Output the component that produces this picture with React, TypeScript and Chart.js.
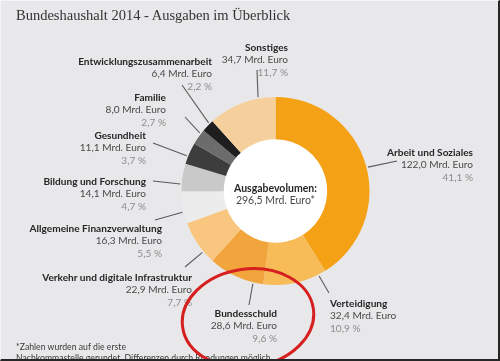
import React, { useEffect, useRef } from "react";
import { Chart, registerables } from "chart.js";

Chart.register(...registerables);

// ---------- data ----------
const categories = [
  "Arbeit und Soziales",
  "Verteidigung",
  "Bundesschuld",
  "Verkehr und digitale Infrastruktur",
  "Allgemeine Finanzverwaltung",
  "Bildung und Forschung",
  "Gesundheit",
  "Familie",
  "Entwicklungszusammenarbeit",
  "Sonstiges",
];
const amounts = [122.0, 32.4, 28.6, 22.9, 16.3, 14.1, 11.1, 8.0, 6.4, 34.7];
const amountLabels = [
  "122,0 Mrd. Euro",
  "32,4 Mrd. Euro",
  "28,6 Mrd. Euro",
  "22,9 Mrd. Euro",
  "16,3 Mrd. Euro",
  "14,1 Mrd. Euro",
  "11,1 Mrd. Euro",
  "8,0 Mrd. Euro",
  "6,4 Mrd. Euro",
  "34,7 Mrd. Euro",
];
const percentLabels = [
  "41,1 %",
  "10,9 %",
  "9,6 %",
  "7,7 %",
  "5,5 %",
  "4,7 %",
  "3,7 %",
  "2,7 %",
  "2,2 %",
  "11,7 %",
];
const sliceColors = [
  "#f4a116",
  "#f7bb58",
  "#f2a53c",
  "#f8c67f",
  "#ececec",
  "#c9c9c9",
  "#3d3d3d",
  "#6c6c6c",
  "#1e1e1e",
  "#f6d09c",
];
const titleText = "Bundeshaushalt 2014 - Ausgaben im Überblick";
const centerTitle = "Ausgabevolumen:";
const centerValue = "296,5 Mrd. Euro*";
const footnoteLines = [
  "*Zahlen wurden auf die erste",
  "Nachkommastelle gerundet. Differenzen durch Rundungen möglich",
];

// ---------- layout (positions only) ----------
type LabelPos = { align: "left" | "right"; x: number; y: number; t: number; lx: number; ly: number };
const labelLayout: LabelPos[] = [
  { align: "right", x: 473, y: 152, t: 0.51, lx: 397, ly: 161 },
  { align: "left", x: 330, y: 303, t: 0.12, lx: 329, ly: 293 },
  { align: "right", x: 277, y: 313, t: 0.18, lx: 249, ly: 305 },
  { align: "right", x: 192, y: 277, t: 0.28, lx: 185, ly: 267 },
  { align: "right", x: 162, y: 228, t: 0.36, lx: 155, ly: 220 },
  { align: "right", x: 146, y: 181, t: 0.26, lx: 153, ly: 181 },
  { align: "right", x: 146, y: 135, t: 0.35, lx: 153, ly: 143 },
  { align: "right", x: 166, y: 97, t: 0.73, lx: 185, ly: 117 },
  { align: "right", x: 212, y: 61, t: 0.7, lx: 182, ly: 85 },
  { align: "right", x: 288, y: 47, t: 0.75, lx: 257, ly: 70 },
];

const W = 500;
const H = 361;
const LINE_H = 12.6;
const LABEL_FS = 10.1;
const SANS = "Lato, 'Open Sans', 'Liberation Sans', sans-serif";

const holePlugin = {
  id: "whiteHole",
  beforeDatasetsDraw(chart: any) {
    const meta = chart.getDatasetMeta(0);
    const el = meta.data[0];
    if (!el) return;
    const { x, y, innerRadius } = el.getProps(["x", "y", "innerRadius"], true);
    const ctx = chart.ctx;
    ctx.save();
    ctx.fillStyle = "#ffffff";
    ctx.beginPath();
    ctx.arc(x, y, innerRadius + 0.5, 0, Math.PI * 2);
    ctx.fill();
    ctx.restore();
  },
};

const leaderPlugin = {
  id: "leaders",
  afterDatasetsDraw(chart: any) {
    const meta = chart.getDatasetMeta(0);
    const ctx = chart.ctx;
    ctx.save();
    ctx.strokeStyle = "#5a5a5a";
    ctx.lineWidth = 1.1;
    meta.data.forEach((el: any, i: number) => {
      const lay = labelLayout[i];
      if (!lay) return;
      const { x, y, startAngle, endAngle, outerRadius } = el.getProps(
        ["x", "y", "startAngle", "endAngle", "outerRadius"],
        true
      );
      const a = startAngle + lay.t * (endAngle - startAngle);
      const r = outerRadius + 1.5;
      ctx.beginPath();
      ctx.moveTo(x + r * Math.cos(a), y + r * Math.sin(a));
      ctx.lineTo(lay.lx, lay.ly);
      ctx.stroke();
    });
    ctx.restore();
  },
};

export default function App() {
  const canvasRef = useRef<HTMLCanvasElement | null>(null);

  useEffect(() => {
    document.body.style.margin = "0";
    const canvas = canvasRef.current;
    if (!canvas) return;
    const chart = new Chart(canvas, {
      type: "doughnut",
      data: {
        labels: categories,
        datasets: [
          {
            data: amounts,
            backgroundColor: sliceColors,
            borderWidth: 0,
          },
        ],
      },
      options: {
        responsive: false,
        maintainAspectRatio: false,
        animation: false,
        cutout: "55%",
        layout: { padding: { left: 181.5, right: 130.5, top: 97, bottom: 76 } },
        plugins: {
          legend: { display: false },
          tooltip: { enabled: false },
        },
      },
      plugins: [holePlugin, leaderPlugin],
    });
    return () => chart.destroy();
  }, []);

  return (
    <div
      style={{
        position: "relative",
        width: W,
        height: H,
        overflow: "hidden",
        background: "#e8e8ea",
        fontFamily: SANS,
      }}
    >
      <style>{"body{margin:0}"}</style>
      <canvas
        ref={canvasRef}
        width={W}
        height={H}
        style={{ position: "absolute", left: 0, top: 0, width: W, height: H }}
      />
      <div
        style={{
          position: "absolute",
          left: 16,
          top: 5,
          fontFamily: "'Liberation Serif', 'DejaVu Serif', serif",
          fontSize: 14.5,
          color: "#333333",
          whiteSpace: "nowrap",
          lineHeight: "20px",
        }}
      >
        {titleText}
      </div>
      {categories.map((c, i) => {
        const lay = labelLayout[i];
        const pos: any = {
          position: "absolute",
          top: lay.y - LINE_H / 2,
          whiteSpace: "nowrap",
          textAlign: lay.align,
          fontSize: LABEL_FS,
          lineHeight: `${LINE_H}px`,
        };
        if (lay.align === "right") pos.right = W - lay.x;
        else pos.left = lay.x;
        return (
          <div key={c} style={pos}>
            <div style={{ fontWeight: 700, color: "#262626" }}>{c}</div>
            <div style={{ color: "#4a4a4a" }}>{amountLabels[i]}</div>
            <div style={{ color: "#8c8c8c" }}>{percentLabels[i]}</div>
          </div>
        );
      })}
      <div
        style={{
          position: "absolute",
          left: 275.5 - 60,
          width: 120,
          top: 188 - LINE_H / 2,
          textAlign: "center",
          fontSize: 10.5,
          lineHeight: `${LINE_H}px`,
          whiteSpace: "nowrap",
        }}
      >
        <div style={{ fontWeight: 700, color: "#262626" }}>{centerTitle}</div>
        <div style={{ color: "#4a4a4a" }}>{centerValue}</div>
      </div>
      <div
        style={{
          position: "absolute",
          left: 16,
          top: 346 - 5.5,
          fontSize: 8.7,
          lineHeight: "11px",
          color: "#3a3a3a",
          whiteSpace: "nowrap",
        }}
      >
        {footnoteLines.map((l) => (
          <div key={l}>{l}</div>
        ))}
      </div>
      <svg
        width={W}
        height={H}
        style={{ position: "absolute", left: 0, top: 0, pointerEvents: "none" }}
      >
        <ellipse
          cx={248}
          cy={318}
          rx={66}
          ry={49}
          transform="rotate(-8 248 318)"
          fill="none"
          stroke="#d61f1f"
          strokeWidth={3}
        />
      </svg>
      <div
        style={{
          position: "absolute",
          left: 0,
          top: 0,
          width: W,
          height: H,
          boxSizing: "border-box",
          borderTop: "1px solid #f5f5f5",
          borderLeft: "1px solid #f5f5f5",
          borderRight: "2px solid #262626",
          borderBottom: "2px solid #262626",
          pointerEvents: "none",
        }}
      />
    </div>
  );
}
